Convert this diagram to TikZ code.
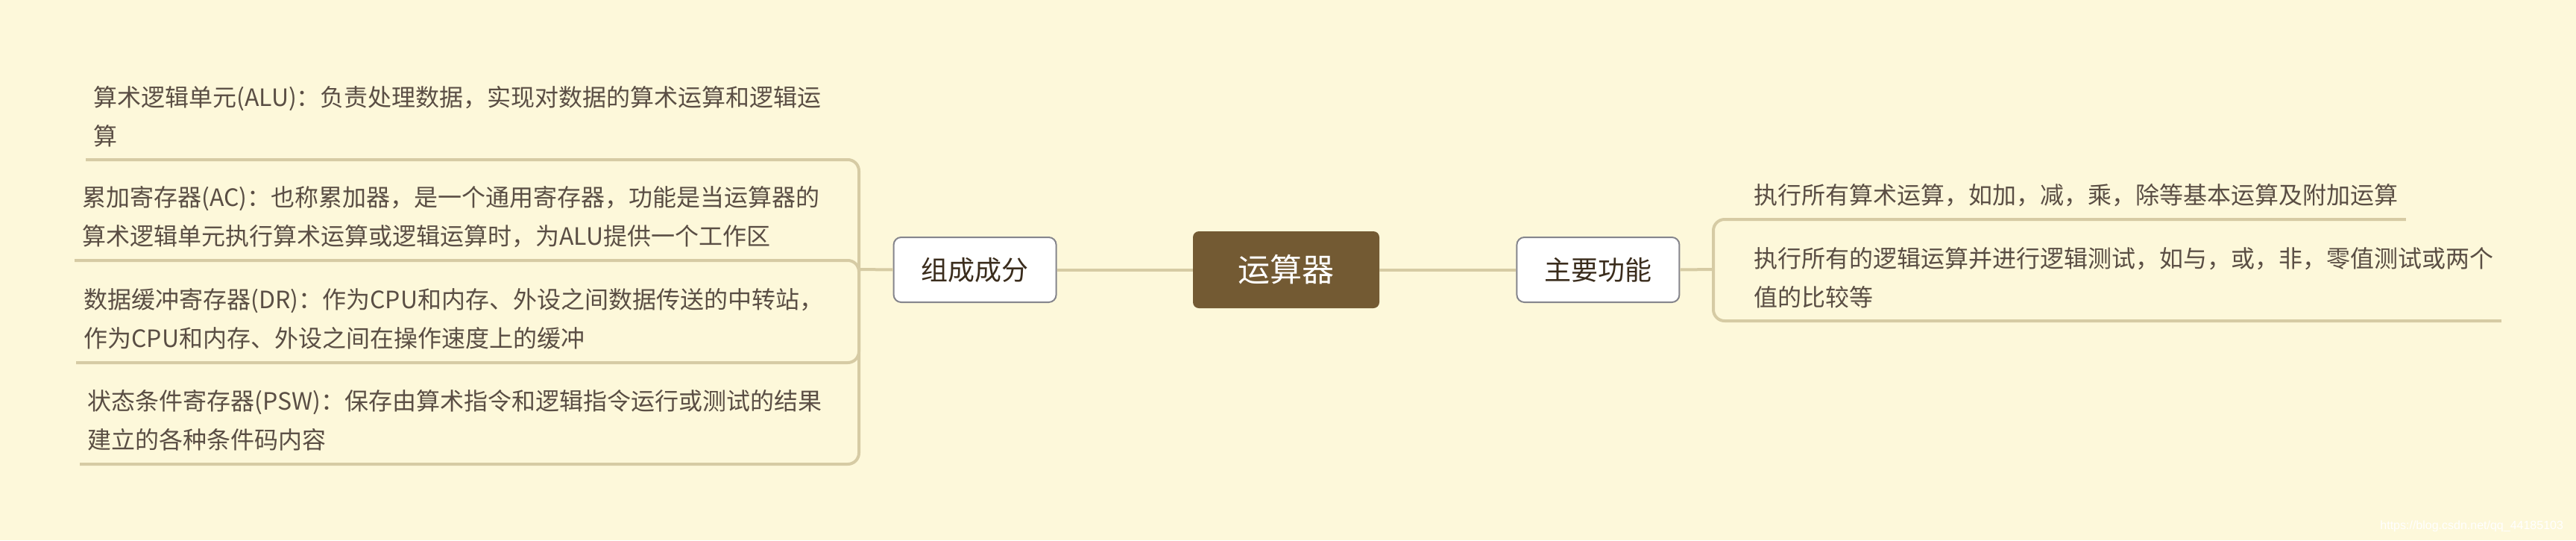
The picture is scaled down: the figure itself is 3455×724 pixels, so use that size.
\documentclass[tikz,border=0pt]{standalone}
\usepackage{fontspec}
\setmainfont{Noto Sans CJK SC}
\newfontfamily\markfont{Liberation Sans}
\usetikzlibrary{positioning}

\definecolor{paper}{HTML}{FDF8DA}
\definecolor{branchline}{HTML}{D6CBA4}
\definecolor{rootfill}{HTML}{735A33}
\definecolor{boxline}{HTML}{85858C}
\definecolor{leaftext}{HTML}{5A4E44}
\definecolor{boxtext}{HTML}{3A2C1C}

\tikzset{
  topic/.style={draw=boxline, line width=1pt, fill=white, rounded corners=5pt,
    minimum width=109pt, minimum height=43.5pt, text=boxtext,
    font=\fontsize{18pt}{22pt}\selectfont},
  rootbox/.style={fill=rootfill, rounded corners=4pt, minimum width=125pt,
    minimum height=51.5pt, text=white, font=\fontsize{21.5pt}{26pt}\selectfont},
  leaf/.style={anchor=south west, align=left, inner xsep=5pt, inner ysep=8.5pt,
    text=leaftext, font=\fontsize{16pt}{26pt}\selectfont},
  branch/.style={draw=branchline, line width=2pt, rounded corners=7.5pt},
}

\begin{document}
\begin{tikzpicture}[x=0.5pt, y=-0.5pt]
  \fill[paper] (0,0) rectangle (3455,724);
  \useasboundingbox (0,0) rectangle (3455,724);

  % Central topic and main branches
  \node[rootbox] (root) at (1725,361.5) {运算器};
  \node[topic, left=91pt of root] (parts) {组成成分};
  \node[topic, right=91.5pt of root] (func) {主要功能};

  % Join points of the brackets
  \coordinate (ljoin) at (1152,361);
  \coordinate (rjoin) at (2298,361);

  % Left leaves
  \node[leaf] (alu) at (115,214) {算术逻辑单元(ALU)：负责处理数据，实现对数据的算术运算和逻辑运\\算};
  \node[leaf] (ac) at (100,349) {累加寄存器(AC)：也称累加器，是一个通用寄存器，功能是当运算器的\\算术逻辑单元执行算术运算或逻辑运算时，为ALU提供一个工作区};
  \node[leaf] (dr) at (102,486) {数据缓冲寄存器(DR)：作为CPU和内存、外设之间数据传送的中转站，\\作为CPU和内存、外设之间在操作速度上的缓冲};
  \node[leaf] (psw) at (107,622) {状态条件寄存器(PSW)：保存由算术指令和逻辑指令运行或测试的结果\\建立的各种条件码内容};

  % Right leaves
  \node[leaf] (arith) at (2342,294) {执行所有算术运算，如加，减，乘，除等基本运算及附加运算};
  \node[leaf] (logic) at (2342,430) {执行所有的逻辑运算并进行逻辑测试，如与，或，非，零值测试或两个\\值的比较等};

  % Connectors
  \draw[branch] (parts) -- (root);
  \draw[branch] (root) -- (func);
  \draw[branch] (parts.west) -- (ljoin);
  \draw[branch] (func.east) -- (rjoin);
  \foreach \leaf in {alu, ac, dr, psw}
    \draw[branch] (ljoin) |- (\leaf.south west);
  \foreach \leaf in {arith, logic}
    \draw[branch] (rjoin) |- (\leaf.south east);

  % Watermark
  \node[font=\markfont\fontsize{8pt}{10pt}\selectfont, text=white, anchor=east] (mark)
    at (3445,705) {https://blog.csdn.net/qq\_44185103};
\end{tikzpicture}
\end{document}
